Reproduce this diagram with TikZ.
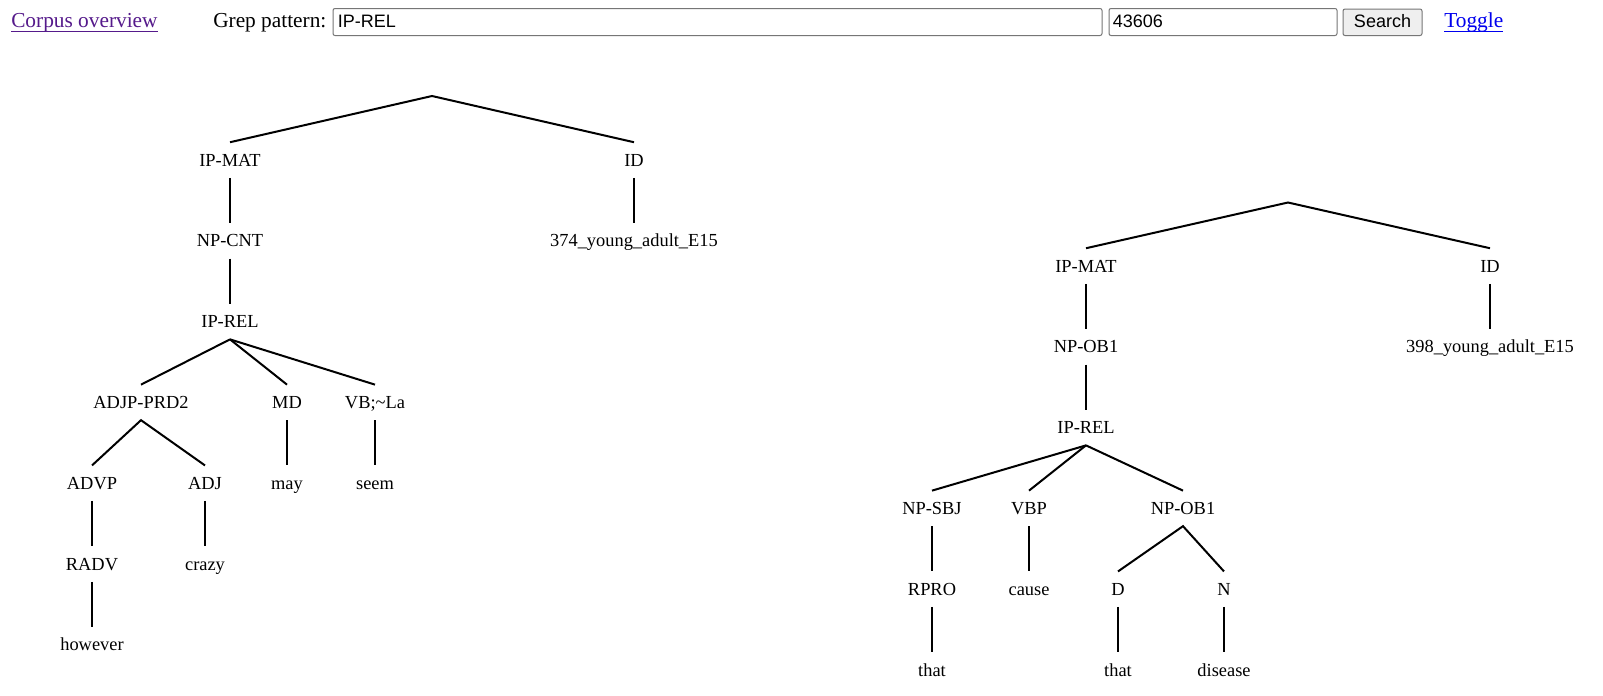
\documentclass[tikz,border=0pt]{standalone}
\usepackage{fontspec}
\setmainfont{Liberation Serif}
\newfontfamily\uisans{Liberation Sans}
\usetikzlibrary{calc}
\definecolor{visitedlink}{HTML}{551A8B}
\definecolor{linkblue}{HTML}{0000EE}
\definecolor{fieldborder}{HTML}{767676}
\definecolor{buttonfill}{HTML}{EFEFEF}
\begin{document}
\begin{tikzpicture}[x=0.75pt,y=-0.75pt,
  lab/.style={inner sep=0pt, text height=9.2pt, text depth=0pt, minimum height=26.25pt,
    font=\fontsize{13.8}{16}\selectfont},
  edge/.style={line width=1.5pt},
  toptext/.style={inner sep=0pt, anchor=base west, font=\fontsize{16}{19}\selectfont},
  field/.style={draw=fieldborder, line width=0.75pt, rounded corners=1.5pt},
  fieldtext/.style={inner sep=0pt, anchor=base west, font=\uisans\fontsize{13.5}{16}\selectfont},
  uline/.style={line width=0.9pt},
]
\useasboundingbox (0,0) rectangle (1603,696);
\fill[white] (0,0) rectangle (1603,696);

% ---------- top bar ----------
\node[toptext, text=visitedlink] (corpus) at (11,27.5) {Corpus overview};
\draw[uline, visitedlink] ($(corpus.base west)+(0,4)$) -- ($(corpus.base east)+(0,4)$);
\node[toptext] (grep) at (213,27.5) {Grep pattern:};
\draw[field] (333,8.5) rectangle (1102,35.5);
\node[fieldtext] (pattern) at (337.5,27.7) {IP-REL};
\draw[field] (1109,8.5) rectangle (1337,35.5);
\node[fieldtext] (number) at (1112.5,27.7) {43606};
\draw[field, fill=buttonfill] (1343,9) rectangle (1422,35.5);
\node[fieldtext, anchor=base] (search) at (1382.5,27.7) {Search};
\node[toptext, text=linkblue] (toggle) at (1444,27.5) {Toggle};
\draw[uline, linkblue] ($(toggle.base west)+(0,4)$) -- ($(toggle.base east)+(0,4)$);

% ---------- left tree ----------
\coordinate (lroot) at (432,96);
\node[lab] (lipmat) at (230,160) {IP-MAT};
\node[lab] (lid) at (634,160) {ID};
\node[lab] (lnpcnt) at (230,240.8) {NP-CNT};
\node[lab] (lidval) at (634,240.8) {374\_young\_adult\_E15};
\node[lab] (liprel) at (230,321.6) {IP-REL};
\node[lab] (ladjp) at (141,402.4) {ADJP-PRD2};
\node[lab] (lmd) at (287,402.4) {MD};
\node[lab] (lvb) at (375,402.4) {VB;\textasciitilde La};
\node[lab] (ladvp) at (92,483.2) {ADVP};
\node[lab] (ladj) at (205,483.2) {ADJ};
\node[lab] (lmay) at (287,483.2) {may};
\node[lab] (lseem) at (375,483.2) {seem};
\node[lab] (lradv) at (92,564) {RADV};
\node[lab] (lcrazy) at (205,564) {crazy};
\node[lab] (lhowever) at (92,644.8) {however};

\draw[edge] (lipmat.north) -- (lroot) -- (lid.north);
\draw[edge] (lipmat.south) -- (lnpcnt.north);
\draw[edge] (lid.south) -- (lidval.north);
\draw[edge] (lnpcnt.south) -- (liprel.north);
\draw[edge] (liprel.south) -- (ladjp.north);
\draw[edge] (liprel.south) -- (lmd.north);
\draw[edge] (liprel.south) -- (lvb.north);
\draw[edge] (ladvp.north) -- (ladjp.south) -- (ladj.north);
\draw[edge] (lmd.south) -- (lmay.north);
\draw[edge] (lvb.south) -- (lseem.north);
\draw[edge] (ladvp.south) -- (lradv.north);
\draw[edge] (ladj.south) -- (lcrazy.north);
\draw[edge] (lradv.south) -- (lhowever.north);

% ---------- right tree ----------
\coordinate (rroot) at (1288,202.5);
\node[lab] (ripmat) at (1086,266) {IP-MAT};
\node[lab] (rid) at (1490,266) {ID};
\node[lab] (rnpob) at (1086,346.8) {NP-OB1};
\node[lab] (ridval) at (1490,346.8) {398\_young\_adult\_E15};
\node[lab] (riprel) at (1086,427.6) {IP-REL};
\node[lab] (rnpsbj) at (932,508.4) {NP-SBJ};
\node[lab] (rvbp) at (1029,508.4) {VBP};
\node[lab] (rnpobb) at (1183,508.4) {NP-OB1};
\node[lab] (rrpro) at (932,589.2) {RPRO};
\node[lab] (rcause) at (1029,589.2) {cause};
\node[lab] (rd) at (1118,589.2) {D};
\node[lab] (rn) at (1224,589.2) {N};
\node[lab] (rthat) at (932,670) {that};
\node[lab] (rthatb) at (1118,670) {that};
\node[lab] (rdisease) at (1224,670) {disease};

\draw[edge] (ripmat.north) -- (rroot) -- (rid.north);
\draw[edge] (ripmat.south) -- (rnpob.north);
\draw[edge] (rid.south) -- (ridval.north);
\draw[edge] (rnpob.south) -- (riprel.north);
\draw[edge] (riprel.south) -- (rnpsbj.north);
\draw[edge] (riprel.south) -- (rvbp.north);
\draw[edge] (riprel.south) -- (rnpobb.north);
\draw[edge] (rnpsbj.south) -- (rrpro.north);
\draw[edge] (rvbp.south) -- (rcause.north);
\draw[edge] (rd.north) -- (rnpobb.south) -- (rn.north);
\draw[edge] (rrpro.south) -- (rthat.north);
\draw[edge] (rd.south) -- (rthatb.north);
\draw[edge] (rn.south) -- (rdisease.north);
\end{tikzpicture}
\end{document}
